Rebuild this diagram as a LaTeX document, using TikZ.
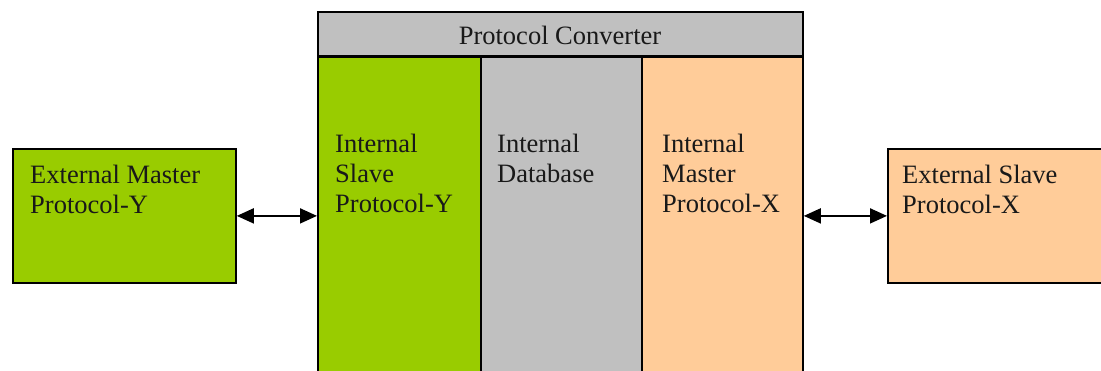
\documentclass[tikz,border=0pt]{standalone}
\usepackage{fontspec}
\setmainfont{Liberation Serif}
\usetikzlibrary{arrows.meta}
\definecolor{leaf}{HTML}{99CC00}
\definecolor{steel}{HTML}{C0C0C0}
\definecolor{peach}{HTML}{FFCC99}
\begin{document}
\begin{tikzpicture}[x=1pt,y=-1pt,
  box/.style={draw=black, line width=1.8pt, rectangle, inner sep=0pt, anchor=north west},
  lbl/.style={font=\fontsize{26.5}{30}\selectfont, align=left, inner sep=0pt, anchor=base west, text=black!90},
  link/.style={line width=1.8pt, {Triangle[length=17pt,width=15pt]}-{Triangle[length=17pt,width=15pt]}}]
\useasboundingbox (0,0) rectangle (1101,371);
\clip (0,0) rectangle (1101,371);
\fill[white] (0,0) rectangle (1101,371);

% outer devices
\node[box, fill=leaf, minimum width=223pt, minimum height=134pt] (extm) at (12,148) {};
\node[box, fill=peach, minimum width=230pt, minimum height=134pt] (exts) at (887,148) {};

% converter columns and header
\node[box, fill=leaf, minimum width=163pt, minimum height=330pt] (slave) at (317,55) {};
\node[box, fill=steel, minimum width=161pt, minimum height=330pt] (dbase) at (480,55) {};
\node[box, fill=peach, minimum width=161pt, minimum height=330pt] (master) at (641,55) {};
\node[box, fill=steel, minimum width=485pt, minimum height=44pt] (head) at (317,11) {};
\draw[line width=2.6pt] (head.south west) -- (head.south east);

% labels (anchored on the baseline of their last line)
\node[lbl, anchor=base] (title) at (560,45) {Protocol Converter};
\node[lbl] (tm) at (30,214) {External Master\\Protocol-Y};
\node[lbl] (ts) at (902,214) {External Slave\\Protocol-X};
\node[lbl] (tsl) at (335,213) {Internal\\Slave\\Protocol-Y};
\node[lbl] (tdb) at (497,183) {Internal\\Database};
\node[lbl] (tma) at (662,213) {Internal\\Master\\Protocol-X};

% links
\draw[link] (extm.east) -- (extm.east -| slave.west);
\draw[link] (exts.west -| master.east) -- (exts.west);
\end{tikzpicture}
\end{document}
